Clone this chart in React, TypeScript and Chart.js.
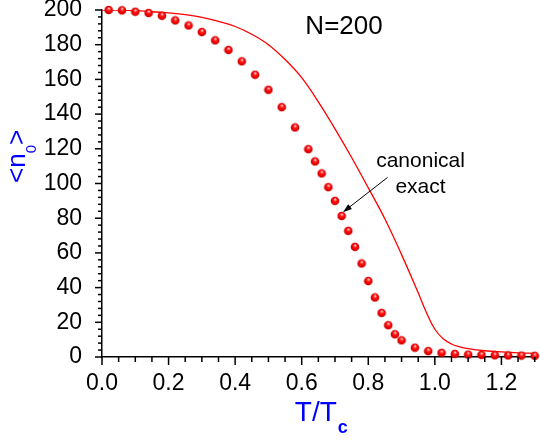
import React, { useEffect, useRef } from "react";
import { Chart, registerables } from "chart.js";

Chart.register(...registerables);

// Canonical (dots) data: T/Tc and <n0>
const canonicalT = [
  0.02, 0.06, 0.10, 0.14, 0.18, 0.22, 0.26, 0.30, 0.34, 0.38, 0.42, 0.46, 0.50, 0.54, 0.58,
  0.62, 0.64, 0.66, 0.68, 0.70, 0.72, 0.74, 0.76, 0.78, 0.80, 0.82, 0.84, 0.86, 0.88, 0.90,
  0.94, 0.98, 1.02, 1.06, 1.10, 1.14, 1.18, 1.22, 1.26, 1.30,
];
const canonicalN = [
  200, 199.8, 199, 198.3, 196.7, 194, 191.1, 187.3, 182.5, 177, 170.4, 162.7, 154, 144, 132.3,
  119.8, 112.7, 105.8, 97.9, 90.0, 81.3, 72.7, 63.5, 53.9, 43.8, 34.3, 25.4, 18.3, 13.1, 9.6,
  5.4, 3.4, 2.4, 1.8, 1.4, 1.2, 1.0, 0.9, 0.8, 0.7,
];

// Exact (solid line) data
const exactT = [
  0, 0.05, 0.1, 0.15, 0.2, 0.25, 0.3, 0.35, 0.4, 0.45, 0.5, 0.55, 0.6, 0.65, 0.7, 0.75, 0.8,
  0.85, 0.9, 0.95, 0.975, 1.0, 1.025, 1.05, 1.075, 1.1, 1.15, 1.2, 1.25, 1.3,
];
const exactN = [
  200, 199.9, 199.6, 199, 198.3, 197.3, 195.7, 193.4, 190.5, 186, 180, 171.5, 161, 147,
  131.5, 115, 97.5, 79.5, 59, 37, 25.5, 16, 10.5, 7.5, 5.8, 4.8, 3.6, 2.9, 2.4, 2.1,
];

const xTickStep = 0.2;
const yTickStep = 20;
const xMinorStep = 0.05;
const yMinorStep = 4;

// annotations in data coordinates
const labelN = { text: "N=200", x: 0.611, y: 186.2 };
const annotLines = ["canonical", "exact"];
const annotPos = { x: 0.957, y1: 109.5, y2: 94.5 };
const arrowFrom = { x: 0.858, y: 103.5 };
const arrowTo = { x: 0.724, y: 83.5 };

const FONT = "'Liberation Sans', Arial, sans-serif";

function makeSphere(r: number): HTMLCanvasElement {
  const c = document.createElement("canvas");
  const s = Math.ceil(r * 2 + 1);
  c.width = s;
  c.height = s;
  const g = c.getContext("2d")!;
  const cx = s / 2;
  const cy = s / 2;
  const grad = g.createRadialGradient(cx + 0.3, cy - r * 0.45, 0, cx, cy, r);
  grad.addColorStop(0, "#ffffff");
  grad.addColorStop(0.22, "#ff8080");
  grad.addColorStop(0.45, "#ff1010");
  grad.addColorStop(0.85, "#e00000");
  grad.addColorStop(1, "#b00000");
  g.fillStyle = grad;
  g.beginPath();
  g.arc(cx, cy, r, 0, Math.PI * 2);
  g.fill();
  return c;
}

const decorPlugin = {
  id: "decor",
  afterDraw(chart: any) {
    const ctx = chart.ctx as CanvasRenderingContext2D;
    const xs = chart.scales.x;
    const ys = chart.scales.y;
    const area = chart.chartArea;
    ctx.save();
    ctx.strokeStyle = "#000";
    ctx.lineWidth = 1.5;
    // y ticks
    for (let i = 0; i * yMinorStep <= 200 + 1e-9; i++) {
      const v = i * yMinorStep;
      const py = ys.getPixelForValue(v);
      const len = Math.abs(v % yTickStep) < 1e-6 ? 7 : 4;
      ctx.beginPath();
      ctx.moveTo(area.left - len, py);
      ctx.lineTo(area.left, py);
      ctx.stroke();
    }
    // x ticks
    for (let i = 0; i * xMinorStep <= 1.3 + 1e-9; i++) {
      const v = i * xMinorStep;
      const px = xs.getPixelForValue(v);
      const r = v / xTickStep;
      const len = Math.abs(r - Math.round(r)) < 1e-6 ? 8 : 5;
      ctx.beginPath();
      ctx.moveTo(px, area.bottom);
      ctx.lineTo(px, area.bottom + len);
      ctx.stroke();
    }

    // N=200
    ctx.fillStyle = "#000";
    ctx.font = `26px ${FONT}`;
    ctx.textAlign = "left";
    ctx.textBaseline = "alphabetic";
    ctx.fillText(labelN.text, xs.getPixelForValue(labelN.x), ys.getPixelForValue(labelN.y));

    // annotation text
    ctx.font = `21px ${FONT}`;
    ctx.textAlign = "center";
    ctx.fillText(annotLines[0], xs.getPixelForValue(annotPos.x), ys.getPixelForValue(annotPos.y1));
    ctx.fillText(annotLines[1], xs.getPixelForValue(annotPos.x), ys.getPixelForValue(annotPos.y2));

    // arrow
    const x1 = xs.getPixelForValue(arrowFrom.x);
    const y1 = ys.getPixelForValue(arrowFrom.y);
    const x2 = xs.getPixelForValue(arrowTo.x);
    const y2 = ys.getPixelForValue(arrowTo.y);
    const ang = Math.atan2(y2 - y1, x2 - x1);
    const hl = 9;
    const hw = 3;
    ctx.strokeStyle = "#000";
    ctx.lineWidth = 1;
    ctx.beginPath();
    ctx.moveTo(x1, y1);
    ctx.lineTo(x2 - Math.cos(ang) * hl * 0.8, y2 - Math.sin(ang) * hl * 0.8);
    ctx.stroke();
    ctx.beginPath();
    ctx.moveTo(x2, y2);
    ctx.lineTo(
      x2 - Math.cos(ang) * hl - Math.sin(ang) * hw,
      y2 - Math.sin(ang) * hl + Math.cos(ang) * hw
    );
    ctx.lineTo(
      x2 - Math.cos(ang) * hl + Math.sin(ang) * hw,
      y2 - Math.sin(ang) * hl - Math.cos(ang) * hw
    );
    ctx.closePath();
    ctx.fillStyle = "#000";
    ctx.fill();

    // x axis title T/Tc
    ctx.fillStyle = "#0000ff";
    ctx.textAlign = "left";
    ctx.font = `28px ${FONT}`;
    const main = "T/T";
    const wMain = ctx.measureText(main).width;
    ctx.font = `bold 18px ${FONT}`;
    const wSub = ctx.measureText("c").width;
    const cxMid = (area.left + area.right) / 2 + 3;
    const startX = cxMid - (wMain + wSub + 1) / 2;
    const baseY = area.bottom + 64;
    ctx.font = `28px ${FONT}`;
    ctx.fillText(main, startX, baseY);
    ctx.font = `bold 18px ${FONT}`;
    ctx.fillText("c", startX + wMain + 1, baseY + 12);

    // y axis title <n0>
    ctx.save();
    ctx.translate(area.left - 77, area.top + 173);
    ctx.rotate(-Math.PI / 2);
    ctx.font = `26px ${FONT}`;
    const p1 = "<n";
    ctx.fillText(p1, 0, 0);
    let off = ctx.measureText(p1).width;
    ctx.font = `15px ${FONT}`;
    ctx.fillText("0", off, 11);
    off += ctx.measureText("0").width;
    ctx.font = `26px ${FONT}`;
    ctx.fillText(">", off, 0);
    ctx.restore();

    ctx.restore();
  },
};

export default function App() {
  const ref = useRef<HTMLCanvasElement | null>(null);
  useEffect(() => {
    if (!ref.current) return;
    const sphere = makeSphere(4.3);
    const chart = new Chart(ref.current, {
      type: "scatter",
      data: {
        datasets: [
          {
            label: "canonical",
            data: canonicalT.map((t, i) => ({ x: t, y: canonicalN[i] })),
            pointStyle: sphere as any,
            pointRadius: 4.3,
            showLine: false,
            clip: false as any,
          },
          {
            label: "exact",
            data: exactT.map((t, i) => ({ x: t, y: exactN[i] })),
            showLine: true,
            borderColor: "#ff0000",
            borderWidth: 1.3,
            pointRadius: 0,
            tension: 0.4,
            fill: false,
          },
        ],
      },
      options: {
        responsive: false,
        animation: false,
        layout: { padding: { left: 0, right: 1.6, top: 10, bottom: 0 } },
        plugins: { legend: { display: false }, tooltip: { enabled: false } },
        scales: {
          x: {
            type: "linear",
            min: 0,
            max: 1.3,
            grid: { display: false },
            border: { display: true, color: "#000", width: 1.5 },
            ticks: {
              stepSize: xTickStep,
              includeBounds: false,
              autoSkip: false,
              color: "#000",
              padding: 5,
              font: { family: FONT, size: 23 },
              callback: (v: any) => Number(v).toFixed(1),
            },
            afterBuildTicks: (s: any) => {
              s.ticks = s.ticks.filter((t: any) => {
                const r = t.value / xTickStep;
                return Math.abs(r - Math.round(r)) < 1e-6;
              });
            },
            afterFit: (s: any) => {
              s.height = 83;
              s.paddingLeft = 0;
              s.paddingRight = 0;
              s.paddingTop = 0;
              s.paddingBottom = 0;
            },
          },
          y: {
            type: "linear",
            min: 0,
            max: 200,
            grid: { display: false },
            border: { display: true, color: "#000", width: 1.5 },
            ticks: {
              stepSize: yTickStep,
              autoSkip: false,
              color: "#000",
              padding: 12,
              font: { family: FONT, size: 23 },
            },
            afterFit: (s: any) => {
              s.width = 102;
              s.paddingTop = 0;
              s.paddingBottom = 0;
              s.paddingLeft = 0;
              s.paddingRight = 0;
            },
          },
        },
      },
      plugins: [decorPlugin],
    });
    return () => chart.destroy();
  }, []);
  return (
    <div style={{ position: "fixed", left: 0, top: 0, width: 540, height: 440, background: "#fff" }}>
      <canvas ref={ref} width={540} height={440} />
    </div>
  );
}
